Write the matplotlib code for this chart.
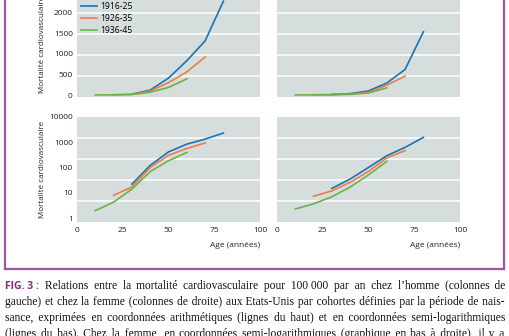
import matplotlib.pyplot as plt
from matplotlib.lines import Line2D
from matplotlib.ticker import NullLocator

# cohort data: cardiovascular mortality per 100 000 per year
cohorts = ["1916-25", "1926-35", "1936-45"]
ages_1916 = [30, 40, 50, 60, 70, 80]
ages_1926 = [20, 30, 40, 50, 60, 70]
ages_1936 = [10, 20, 30, 40, 50, 60]

men_1916 = [22, 120, 410, 830, 1310, 2270]
men_1926 = [8, 17, 100, 300, 560, 920]
men_1936 = [2, 4.3, 14, 69, 184, 392]

women_1916 = [15, 35, 100, 290, 620, 1530]
women_1926 = [7.4, 12, 26, 70, 240, 460]
women_1936 = [2.3, 3.7, 7, 17, 51, 175]

age_ticks = [0, 25, 50, 75, 100]
lin_ticks = [0, 500, 1000, 1500, 2000]
log_ticks = [1, 10, 100, 1000, 10000]

colors = ["#1a74b1", "#ee7c47", "#6cb24c"]
purple = "#9d559c"

plt.rcParams["font.family"] = ["Open Sans", "DejaVu Sans"]

W, H = 510, 336
fig = plt.figure(figsize=(W / 100, H / 100), dpi=100)


def box(x0, y_top, w=183, h=105):
    return [x0 / W, 1 - (y_top + h) / H, w / W, h / H]


ax_ml = fig.add_axes(box(77, -8.3))
ax_wl = fig.add_axes(box(277, -8.3))
ax_mg = fig.add_axes(box(77, 116.7))
ax_wg = fig.add_axes(box(277, 116.7))

men = [(ages_1916, men_1916), (ages_1926, men_1926), (ages_1936, men_1936)]
women = [(ages_1916, women_1916), (ages_1926, women_1926), (ages_1936, women_1936)]

for ax, series in [(ax_ml, men), (ax_mg, men), (ax_wl, women), (ax_wg, women)]:
    ax.set_facecolor("#d6dddd")
    for s in ax.spines.values():
        s.set_visible(False)
    # designer grid: 5 equal bands
    for f in [0.2, 0.4, 0.6, 0.8]:
        ax.plot([0, 1], [f, f], transform=ax.transAxes, color="white", lw=1.1, zorder=1)
    for (a, v), c, lab in zip(series, colors, cohorts):
        ax.plot(a, v, color=c, lw=1.2, label=lab, zorder=3)
    ax.set_xlim(0, 100)
    ax.tick_params(length=0, labelsize=6, colors="#222222", pad=3)

for ax in [ax_ml, ax_wl]:
    ax.set_ylim(-40, 2500)
    ax.set_xticks([])
    ax.set_yticks(lin_ticks)

for ax in [ax_mg, ax_wg]:
    ax.set_yscale("log")
    ax.set_ylim(0.73, 10000)
    ax.set_yticks(log_ticks)
    ax.set_yticklabels([str(t) for t in log_ticks])
    ax.yaxis.set_minor_locator(NullLocator())
    ax.set_xticks(age_ticks)
    ax.tick_params(axis="x", pad=4)
    ax.text(1, -0.23, "Age (années)", transform=ax.transAxes, ha="right",
            va="center", fontsize=6, color="#222222")

for ax in [ax_wl, ax_wg]:
    ax.set_yticklabels([])

for ax in [ax_ml, ax_mg]:
    ax.text(-0.19, 0.5, "Mortalité cardiovasculaire", transform=ax.transAxes,
            rotation=90, ha="center", va="center", fontsize=5.8, color="#222222")

ax_ml.legend(loc="upper left", bbox_to_anchor=(-0.01, 0.955), frameon=False,
             fontsize=6.2, handlelength=1.8, handletextpad=0.45, labelspacing=0.3,
             borderpad=0.2)

# purple frame
for xs, ys in [([5, 5], [0, 269]), ([504, 504], [0, 269]), ([5, 504], [269, 269])]:
    fig.add_artist(Line2D([x / W for x in xs], [1 - y / H for y in ys],
                          color=purple, lw=1.6, transform=fig.transFigure))

# caption: one text per line, justified with normal + hair spaces
serif = dict(family="Liberation Serif", fontsize=8.3, color="#111111")
fig_tag = dict(family="Open Sans", fontsize=7.5, weight="bold", color="#7d2f7c")
tag = "FIG. 3 :"
lines = [
    "Relations entre la mortalité cardiovasculaire pour 100\u00a0000 par an chez l’homme (colonnes de",
    "gauche) et chez la femme (colonnes de droite) aux Etats-Unis par cohortes définies par la période de nais-",
    "sance, exprimées en coordonnées arithmétiques (lignes du haut) et en coordonnées semi-logarithmiques",
    "(lignes du bas). Chez la femme, en coordonnées semi-logarithmiques (graphique en bas à droite), il y a",
]
baselines = [289, 305, 321, 337]

renderer = fig.canvas.get_renderer()


def text_w(s, st):
    t = fig.text(0, 0, s, **st)
    w = t.get_window_extent(renderer).width
    t.remove()
    return w


base_w = text_w("aa", serif)
sp_w = text_w("a a", serif) - base_w
hair_w = text_w("a\u200aa", serif) - base_w


def build(words, target):
    out, err = words[0], 0.0
    for w in words[1:]:
        need = target + err
        n = max(1, int(need // sp_w))
        m = max(0, round((need - n * sp_w) / hair_w))
        err = need - n * sp_w - m * hair_w
        out += " " * n + "\u200a" * m + w
    return out


def justify(line, y, x0=5, x1=505, lead=None):
    words = line.split(" ")
    ws = [text_w(w, serif) for w in words]
    lead_w = text_w(lead, fig_tag) if lead else 0
    n_gaps = len(words) - 1 + (1 if lead else 0)
    target = (x1 - x0 - lead_w - sum(ws)) / n_gaps
    if lead:
        fig.text(x0 / W, 1 - y / H, lead, va="baseline", **fig_tag)
        x0 += lead_w + target
    inner = target
    for _ in range(4):
        out = build(words, inner)
        diff = (x1 - x0) - text_w(out, serif)
        inner += diff / (len(words) - 1)
    fig.text(x0 / W, 1 - y / H, build(words, inner), va="baseline", **serif)


for i, (line, y) in enumerate(zip(lines, baselines)):
    justify(line, y, lead=tag if i == 0 else None)

fig.savefig("out.png", dpi=100)
